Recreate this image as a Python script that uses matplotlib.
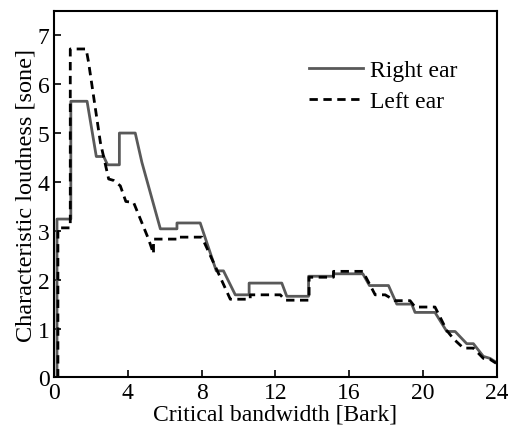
import matplotlib
matplotlib.use("Agg")
import matplotlib.pyplot as plt

right_x = [0.17, 0.17, 0.92, 0.92, 1.8, 2.3, 2.7, 2.91, 3.55, 3.55, 4.41, 4.77, 5.77, 6.67, 6.67,
           7.93, 8.8, 9.19, 9.83, 10.58, 10.58, 12.35, 12.62, 13.8, 13.8, 15.15, 15.15, 16.74, 17.1,
           18.13, 18.58, 19.39, 19.57, 20.65, 21.29, 21.74, 22.37, 22.73, 23.27, 23.63, 23.96]
right_y = [0, 3.24, 3.24, 5.65, 5.65, 4.52, 4.52, 4.35, 4.35, 5.0, 5.0, 4.4, 3.04, 3.04, 3.16,
           3.16, 2.18, 2.18, 1.69, 1.69, 1.93, 1.93, 1.66, 1.66, 2.07, 2.07, 2.12, 2.12, 1.88,
           1.88, 1.5, 1.5, 1.33, 1.33, 0.94, 0.94, 0.69, 0.69, 0.43, 0.39, 0.31]

left_x = [0.22, 0.22, 0.89, 0.89, 1.75, 1.88, 2.52, 2.97, 3.24, 3.6, 3.9, 4.32, 5.13, 5.4, 5.4,
          6.7, 6.7, 8.02, 9.56, 10.64, 10.64, 12.27, 12.53, 13.83, 13.83, 15.15, 15.15, 16.74,
          17.41, 17.95, 18.49, 19.3, 19.57, 20.65, 21.29, 21.65, 22.19, 22.73, 23.27, 23.63, 23.96]
left_y = [0, 3.06, 3.06, 6.72, 6.72, 6.45, 4.81, 4.06, 4.03, 3.92, 3.6, 3.58, 2.83, 2.53, 2.83,
          2.83, 2.87, 2.87, 1.6, 1.6, 1.69, 1.69, 1.58, 1.58, 2.05, 2.05, 2.17, 2.17,
          1.69, 1.69, 1.57, 1.57, 1.44, 1.44, 0.96, 0.79, 0.6, 0.6, 0.39, 0.37, 0.29]

x_ticks = [0, 4, 8, 12, 16, 20, 24]
y_ticks = [0, 1, 2, 3, 4, 5, 6, 7]

plt.rcParams['font.family'] = ['Liberation Serif', 'DejaVu Serif']

fig = plt.figure(figsize=(5.08, 4.39), dpi=100)
ax = fig.add_axes([0.106, 0.138, 0.872, 0.835])

ax.plot(right_x, right_y, color='#595959', lw=2.0, label='Right ear')
ax.plot(left_x, left_y, color='black', lw=2.0, ls=(0, (3, 2)), label='Left ear')

ax.set_xlim(0, 24)
ax.set_ylim(0, 7.5)
ax.set_xticks(x_ticks)
ax.set_yticks(y_ticks)
ax.tick_params(direction='in', length=5, width=1.2, labelsize=17, pad=3)
for s in ax.spines.values():
    s.set_linewidth(1.5)

ax.set_xlabel('Critical bandwidth [Bark]', fontsize=17, labelpad=1)
ax.set_ylabel('Characteristic loudness [sone]', fontsize=17.5, labelpad=1)

ax.legend(loc='upper right', bbox_to_anchor=(0.96, 0.925), frameon=False, fontsize=17,
          handlelength=2.3, handletextpad=0.3, labelspacing=0.4)

fig.savefig('out.png', dpi=100)
